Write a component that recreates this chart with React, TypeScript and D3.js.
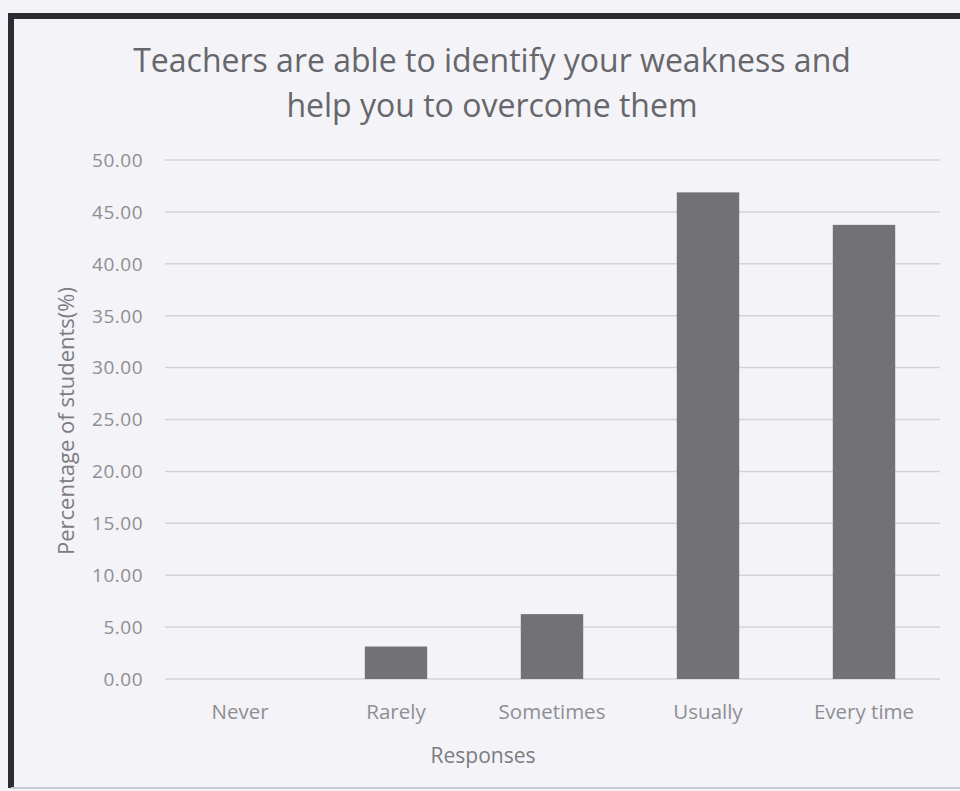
import { useEffect, useRef } from "react";
import * as d3 from "d3";

const categories = ["Never", "Rarely", "Sometimes", "Usually", "Every time"];
const percentages = [0, 3.13, 6.25, 46.88, 43.75];
const yTicks = [0, 5, 10, 15, 20, 25, 30, 35, 40, 45, 50];
const titleLines = [
  "Teachers are able to identify your weakness and",
  "help you to overcome them",
];

const W = 960;
const H = 791;
const FONT = "'Open Sans', Lato, sans-serif";

export default function App() {
  const svgRef = useRef<SVGSVGElement>(null);

  useEffect(() => {
    if (!svgRef.current) return;
    const svg = d3.select(svgRef.current);
    svg.selectAll("*").remove();

    const x = d3
      .scaleBand()
      .domain(categories)
      .range([162, 942])
      .paddingInner(0.6)
      .paddingOuter(0.3);
    const y = d3.scaleLinear().domain([0, 50]).range([679, 160]);

    // page + chart background
    svg.append("rect").attr("width", W).attr("height", H).attr("fill", "#f3f3f8");

    // scanned frame
    svg
      .append("path")
      .attr("d", `M11,${H - 3} V16 H${W + 5}`)
      .attr("fill", "none")
      .attr("stroke", "#2b2b33")
      .attr("stroke-width", 6);
    svg
      .append("line")
      .attr("x1", 11)
      .attr("x2", W)
      .attr("y1", 788)
      .attr("y2", 788)
      .attr("stroke", "#c9c9cf")
      .attr("stroke-width", 2);

    // title
    svg
      .append("g")
      .selectAll("text")
      .data(titleLines)
      .join("text")
      .attr("x", 492)
      .attr("y", (_, i) => 72 + i * 45)
      .attr("text-anchor", "middle")
      .attr("font-family", FONT)
      .attr("font-size", 32)
      .attr("fill", "#66666b")
      .text((d) => d);

    // gridlines
    svg
      .append("g")
      .selectAll("line")
      .data(yTicks)
      .join("line")
      .attr("x1", 165)
      .attr("x2", 940)
      .attr("y1", (d) => y(d))
      .attr("y2", (d) => y(d))
      .attr("stroke", "#d3d3d8")
      .attr("stroke-width", 1.5);

    // y tick labels
    svg
      .append("g")
      .selectAll("text")
      .data(yTicks)
      .join("text")
      .attr("x", 143)
      .attr("y", (d) => y(d))
      .attr("dy", "0.36em")
      .attr("text-anchor", "end")
      .attr("font-family", FONT)
      .attr("font-size", 19)
      .attr("letter-spacing", 0.5)
      .attr("fill", "#8e8e93")
      .text((d) => d3.format(".2f")(d));

    // bars
    svg
      .append("g")
      .selectAll("rect")
      .data(categories)
      .join("rect")
      .attr("x", (d) => x(d) ?? 0)
      .attr("width", x.bandwidth())
      .attr("y", (_, i) => y(percentages[i]))
      .attr("height", (_, i) => y(0) - y(percentages[i]))
      .attr("fill", "#717176");

    // x labels
    svg
      .append("g")
      .selectAll("text")
      .data(categories)
      .join("text")
      .attr("x", (d) => (x(d) ?? 0) + x.bandwidth() / 2)
      .attr("y", 719)
      .attr("text-anchor", "middle")
      .attr("font-family", FONT)
      .attr("font-size", 20.5)
      .attr("fill", "#8e8e93")
      .text((d) => d);

    // axis titles
    svg
      .append("text")
      .attr("x", 483)
      .attr("y", 763)
      .attr("text-anchor", "middle")
      .attr("font-family", FONT)
      .attr("font-size", 21)
      .attr("fill", "#7c7c81")
      .text("Responses");

    svg
      .append("text")
      .attr("transform", "translate(74,421) rotate(-90)")
      .attr("text-anchor", "middle")
      .attr("font-family", FONT)
      .attr("font-size", 22)
      .attr("fill", "#7c7c81")
      .text("Percentage of students(%)");
  }, []);

  return (
    <svg
      ref={svgRef}
      width={W}
      height={H}
      style={{ position: "absolute", left: 0, top: 0 }}
    />
  );
}
